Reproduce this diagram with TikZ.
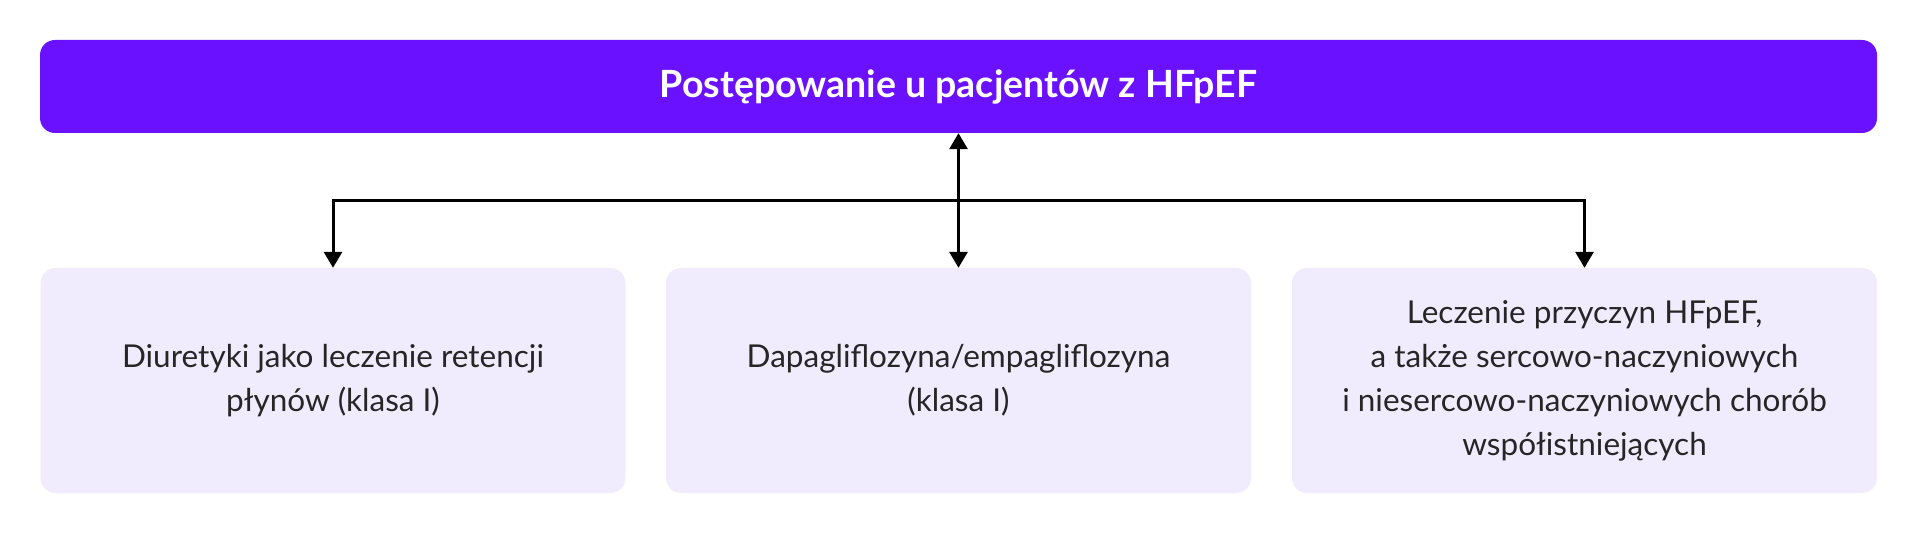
\documentclass[tikz,border=0pt]{standalone}
\usepackage{fontspec}
\setmainfont{Lato}
\usepackage{xcolor}
\usepackage{tikz}
\usetikzlibrary{arrows.meta}
\usetikzlibrary{positioning}
\definecolor{HeadViolet}{RGB}{106,18,255}
\definecolor{BoxLilac}{RGB}{240,236,253}
\definecolor{BoxText}{RGB}{38,38,38}
\tikzset{
  MyHead/.style={
    rectangle, rounded corners=15pt,
    minimum height=93pt,
    minimum width=1837pt,
    fill=HeadViolet, text=white,
    font=\fontsize{37.5}{44}\selectfont\bfseries,
  },
  MyBox/.style={
    rectangle, rounded corners=15pt,
    minimum height=225pt,
    minimum width=585pt,
    fill=BoxLilac, text=BoxText,
    align=center,
    font=\fontsize{31.5}{44}\selectfont,
  },
  MyArrow/.style={
    line width=3pt, draw=black,
    >={Triangle[width=18pt,length=16pt]},
  },
}

\begin{document}
\begin{tikzpicture}[x=1pt,y=-1pt]
\useasboundingbox (0,0) rectangle (1920,534);
\node[MyHead] (HEAD) at (958.5,86.5) {Postępowanie u pacjentów z HFpEF};
\node[MyBox] (DIUR) at (333,380.5) {Diuretyki jako leczenie retencji\\płynów (klasa I)};
\node[MyBox] (SGLT) at (958.5,380.5) {Dapagliflozyna/empagliflozyna\\(klasa I)};
\node[MyBox] (CAUSE) at (1584.5,380.5) {Leczenie przyczyn HFpEF,\\a także sercowo-naczyniowych\\i niesercowo-naczyniowych chorób\\współistniejących};
\coordinate (HUB) at (958.5,201);
\draw[<->,MyArrow] (HEAD.south) to (SGLT.north);
\draw[->,MyArrow] (HUB) -| (DIUR.north);
\draw[->,MyArrow] (HUB) -| (CAUSE.north);
\end{tikzpicture}
\end{document}
